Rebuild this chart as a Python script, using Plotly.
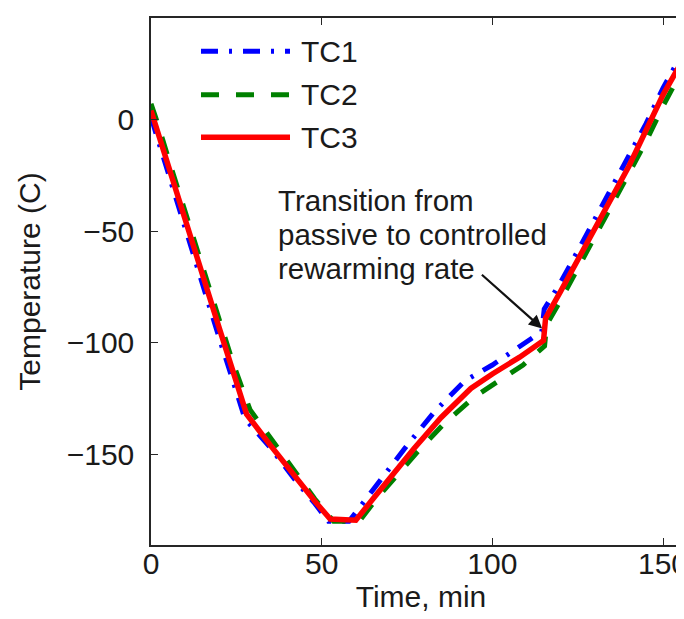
import plotly.graph_objects as go

# ---------------- data ----------------
series_names = ["TC1", "TC2", "TC3"]

time_tc1 = [0, 2, 6, 11, 16, 20, 24, 27.5, 35, 42, 48, 52, 58, 63, 68, 75, 83, 92, 100, 108,
            114.5, 115.2, 120, 125, 130, 135, 140, 145, 150, 154, 156, 158]
temp_tc1 = [1, -9, -29, -54, -78, -98, -117, -134, -147, -161, -172, -180, -180, -170, -160, -146,
            -131, -117, -110, -102, -95, -85, -73, -59, -45, -31, -17, -2, 14, 25, 28.5, 28]

time_tc2 = [0, 2, 6, 11, 16, 20, 24, 29, 36, 42, 48, 53.5, 61, 66, 71, 78, 86, 95, 102, 109,
            115.3, 115.9, 120, 125, 130, 135, 140, 145, 150, 155, 157, 158]
temp_tc2 = [7, -2, -22, -46, -70, -90, -109, -130, -145, -158, -170, -180, -180, -170, -161, -149,
            -136, -124, -117, -110, -101.5, -92, -81, -67, -53, -39, -25, -10, 6, 20, 26, 26.5]

time_tc3 = [0, 2, 6, 11, 16, 20, 24, 28, 35, 42, 48, 52.5, 60, 65, 70, 77, 85, 93.7, 100, 108,
            115, 115.6, 120, 125, 130, 135, 140, 145, 150, 155, 156.4, 158]
temp_tc3 = [4, -6, -26, -50, -74, -93.5, -113, -132, -146, -160, -171, -179, -179.5, -170, -160.5,
            -147.5, -133.5, -120.5, -114, -106.5, -99, -89, -77, -63, -49, -35, -21, -5, 11, 24.5, 28, 27.5]

x_ticks = [0, 50, 100, 150]
y_ticks = [0, -50, -100, -150]
x_range = [0, 158.2]
y_range = [-190.6, 45.4]

note_lines = ["Transition from", "passive to controlled", "rewarming rate"]
arrow_tail = (96.5, -69)
arrow_tip = (114.6, -93.6)

# ---------------- styles ----------------
colors = ["#0000FF", "#008000", "#FF0000"]
dashes = ["17px,11px,3px,11px", "18px,17px", "solid"]
widths = [5, 5, 5.5]
FONT = "Liberation Sans, Arial, Helvetica, sans-serif"
AX = "#262626"
TXT = "#1a1a1a"

fig = go.Figure()
for name, t, T, c, d, w in zip(series_names,
                               [time_tc1, time_tc2, time_tc3],
                               [temp_tc1, temp_tc2, temp_tc3],
                               colors, dashes, widths):
    fig.add_trace(go.Scatter(x=t, y=T, mode="lines", name=name,
                             line=dict(color=c, dash=d, width=w),
                             showlegend=False))

# plot-area geometry (px)
W, H = 684, 619
ML, MR, MT, MB = 143, 1, 10, 82
pw, ph = W - ML - MR, H - MT - MB


def px_x(px):
    return (px - ML) / pw


def px_y(py):
    return 1 - (py - MT) / ph


# manual legend (no box, long line samples like the reference)
legend_rows = [43.3, 86.7, 129.3]
for name, c, d, w, ry in zip(series_names, colors, dashes, widths, legend_rows):
    fig.add_shape(type="line", xref="paper", yref="paper",
                  x0=px_x(193), x1=px_x(282), y0=px_y(ry), y1=px_y(ry),
                  line=dict(color=c, dash=d, width=w))
    fig.add_annotation(xref="paper", yref="paper", x=px_x(291), y=px_y(ry),
                       xanchor="left", yanchor="middle", text=name, showarrow=False,
                       font=dict(family=FONT, size=30, color=TXT))

# text note (three left-aligned lines)
note_rows = [192, 226, 260]
for line, ry in zip(note_lines, note_rows):
    fig.add_annotation(xref="paper", yref="paper", x=px_x(268), y=px_y(ry),
                       xanchor="left", yanchor="middle", text=line, showarrow=False,
                       font=dict(family=FONT, size=29.5, color=TXT))

# arrow
fig.add_annotation(x=arrow_tip[0], y=arrow_tip[1], ax=arrow_tail[0], ay=arrow_tail[1],
                   xref="x", yref="y", axref="x", ayref="y", text="",
                   showarrow=True, arrowhead=2, arrowsize=1.2, arrowwidth=2.2,
                   arrowcolor="#111111", standoff=0)

axis_common = dict(showline=True, linecolor=AX, linewidth=1.5, mirror="ticks",
                   ticks="inside", ticklen=7, tickwidth=1.3, tickcolor=AX,
                   showgrid=False, zeroline=False,
                   tickfont=dict(family=FONT, size=30, color=TXT))

fig.update_xaxes(range=x_range, tickvals=x_ticks, ticklabelstandoff=-9,
                 title=dict(text="Time, min", standoff=0,
                            font=dict(family=FONT, size=30, color=TXT)),
                 **axis_common)
fig.update_yaxes(range=y_range, tickvals=y_ticks, ticklabelstandoff=9,
                 title=dict(text="Temperature (C)", standoff=17,
                            font=dict(family=FONT, size=30, color=TXT)),
                 **axis_common)

fig.update_layout(width=W, height=H, margin=dict(l=ML, r=MR, t=MT, b=MB, autoexpand=False),
                  paper_bgcolor="white", plot_bgcolor="white", showlegend=False)

fig.write_html("out.html")
